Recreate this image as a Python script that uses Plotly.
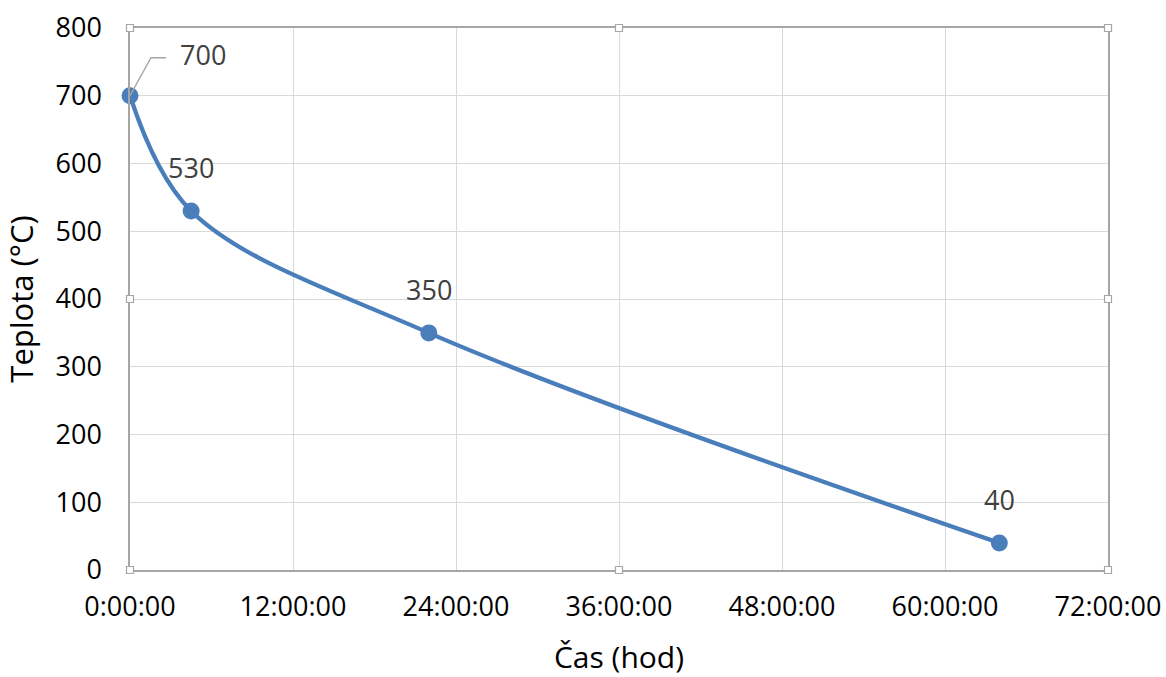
import plotly.graph_objects as go

# Data
hours = [0, 4.5, 22, 64]
temps = [700, 530, 350, 40]
x_tick_vals = [0, 12, 24, 36, 48, 60, 72]
x_tick_text = ["0:00:00", "12:00:00", "24:00:00", "36:00:00", "48:00:00", "60:00:00", "72:00:00"]
y_tick_vals = [0, 100, 200, 300, 400, 500, 600, 700, 800]

FONT = "Open Sans"
BLUE = "#4a7ebb"

fig = go.Figure()
fig.add_trace(go.Scatter(
    x=hours, y=temps, mode="lines+markers", cliponaxis=False,
    line=dict(color=BLUE, width=4.3, shape="spline", smoothing=1.0),
    marker=dict(color=BLUE, size=17),
    showlegend=False, hoverinfo="skip",
))

annotations = []
shapes = []
for i, (h, t) in enumerate(zip(hours, temps)):
    if i == 0:
        annotations.append(dict(
            x=h, y=t, xref="x", yref="y", text=str(t), showarrow=False,
            xshift=73, yshift=41, font=dict(family=FONT, size=27, color="#404040"),
        ))
        shapes.append(dict(
            type="path", xref="x", yref="y", xsizemode="pixel", ysizemode="pixel",
            xanchor=h, yanchor=t, path="M0,0 L21,38 L36,38",
            line=dict(color="#a6a6a6", width=1.4), layer="above",
        ))
    else:
        annotations.append(dict(
            x=h, y=t, xref="x", yref="y", text=str(t), showarrow=False,
            yshift=43, font=dict(family=FONT, size=27, color="#404040"),
        ))

fig.update_layout(
    width=1166, height=677,
    margin=dict(l=130, r=58, t=28, b=107),
    paper_bgcolor="white", plot_bgcolor="white",
    font=dict(family=FONT, color="#000000"),
    annotations=annotations,
    xaxis=dict(
        range=[0, 72], tickvals=x_tick_vals, ticktext=x_tick_text,
        showgrid=True, gridcolor="#d9d9d9", gridwidth=1.3,
        showline=True, linecolor="#a6a6a6", linewidth=1.5, mirror=True,
        zeroline=False, ticks="", ticklabelstandoff=12, automargin=False,
        tickfont=dict(family=FONT, size=27, color="#000000"),
        title=dict(text="Čas (hod)", font=dict(family=FONT, size=30, color="#000000"), standoff=24),
    ),
    yaxis=dict(
        range=[0, 800], tickvals=y_tick_vals,
        showgrid=True, gridcolor="#d9d9d9", gridwidth=1.3,
        showline=True, linecolor="#a6a6a6", linewidth=1.5, mirror=True,
        zeroline=False, ticks="", ticklabelstandoff=21, automargin=False,
        tickfont=dict(family=FONT, size=27, color="#000000"),
        title=dict(text="Teplota (°C)", font=dict(family=FONT, size=31, color="#000000"), standoff=16),
    ),
)

# Selection handles around the plot area
for px, py in [(0, 1), (0.5, 1), (1, 1), (0, 0.5), (1, 0.5), (0, 0), (0.5, 0), (1, 0)]:
    shapes.append(dict(
        type="rect", xref="paper", yref="paper",
        xsizemode="pixel", ysizemode="pixel", xanchor=px, yanchor=py,
        x0=-3.5, x1=3.5, y0=-3.5, y1=3.5,
        fillcolor="white", line=dict(color="#a6a6a6", width=1.2),
    ))
fig.update_layout(shapes=shapes)

fig.write_html("out.html")
